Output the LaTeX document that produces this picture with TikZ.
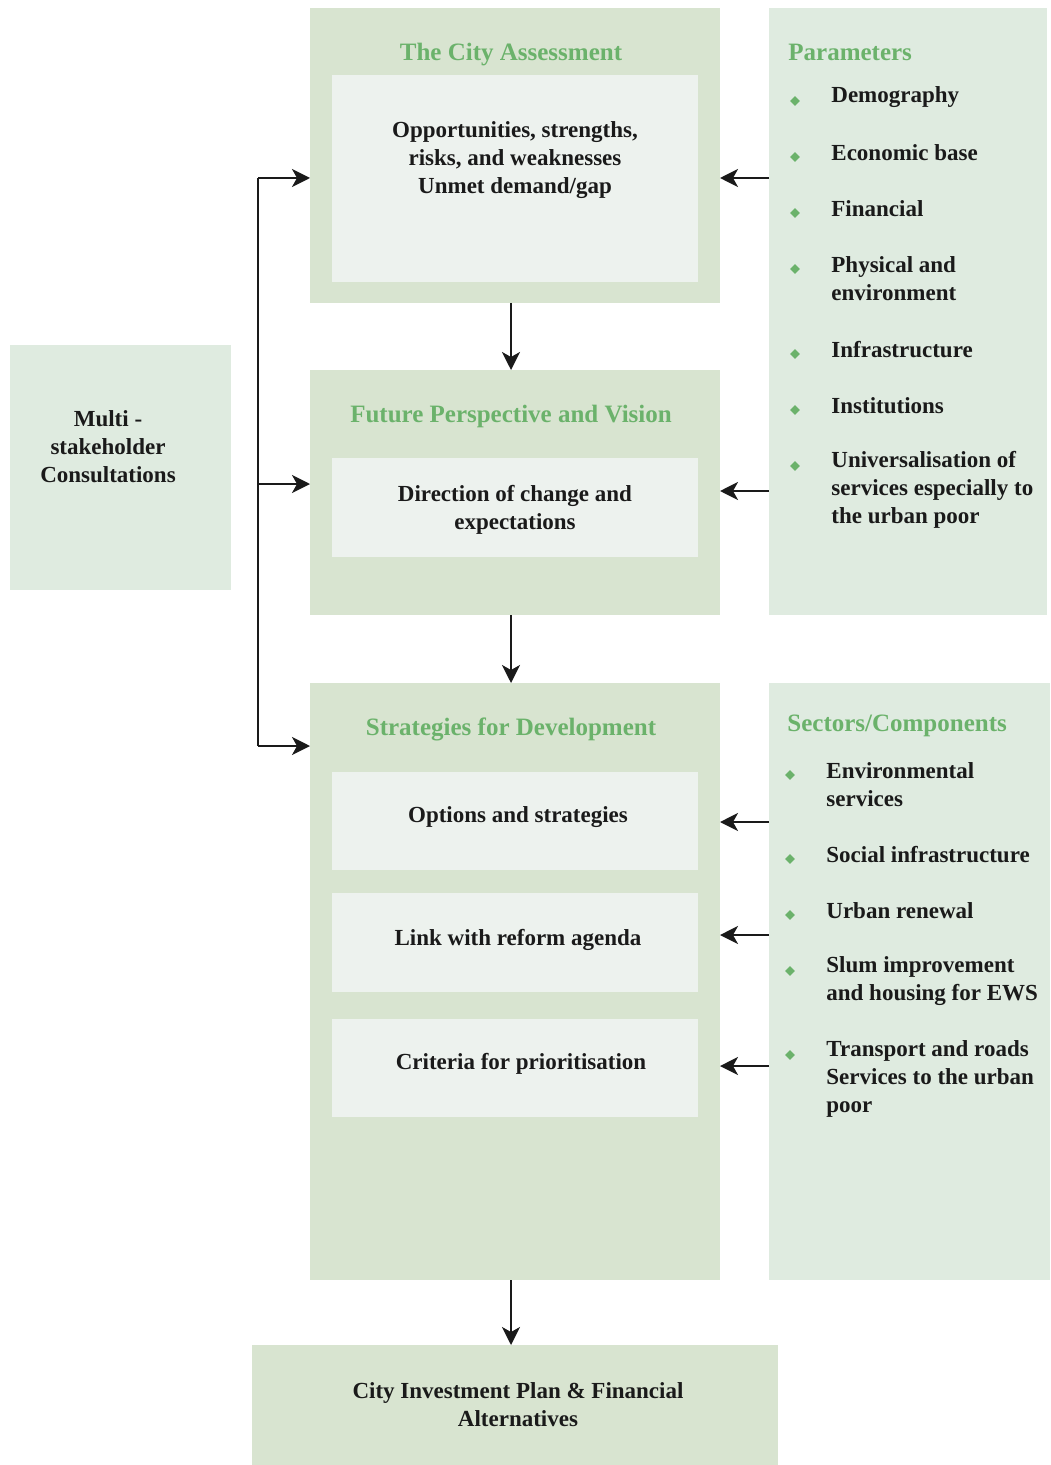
\documentclass[tikz,border=0pt]{standalone}
\usepackage{fontspec}
\setmainfont{Liberation Serif}
\usetikzlibrary{arrows.meta,shapes.geometric}
\definecolor{mainbox}{HTML}{D8E4D0}
\definecolor{sidebox}{HTML}{DFEBE0}
\definecolor{innerbox}{HTML}{EDF2EE}
\definecolor{titlegreen}{HTML}{6BB26B}
\definecolor{txt}{HTML}{1A1A1A}
\tikzset{
  box/.style={anchor=north west, inner sep=0pt, outer sep=0pt, draw=none},
  mainb/.style={box, fill=mainbox},
  sideb/.style={box, fill=sidebox},
  innerb/.style={box, fill=innerbox},
  ttl/.style={text=titlegreen, font=\bfseries\fontsize{12.5}{15}\selectfont, inner sep=0pt},
  body/.style={text=txt, font=\bfseries\fontsize{11.5}{14}\selectfont, align=center, inner sep=0pt},
  item/.style={text=txt, font=\bfseries\fontsize{11.5}{14}\selectfont, align=left, anchor=west, inner sep=0pt},
  bul/.style={diamond, fill=titlegreen, inner sep=0pt, minimum size=5pt},
  arr/.style={line width=1pt, draw=txt, -{Stealth[length=9pt,width=9pt,inset=2.5pt]}},
  ln/.style={line width=1pt, draw=txt}
}
\begin{document}
\begin{tikzpicture}[x=0.5pt,y=-0.5pt]
\useasboundingbox (0,0) rectangle (1050,1465);
% main boxes
\node[mainb, minimum width=205pt, minimum height=147.5pt] (ca) at (310,8) {};
\node[innerb, minimum width=183pt, minimum height=103.5pt] (caIn) at (332,75) {};
\node[mainb, minimum width=205pt, minimum height=122.5pt] (fp) at (310,370) {};
\node[innerb, minimum width=183pt, minimum height=49.5pt] (fpIn) at (332,458) {};
\node[mainb, minimum width=205pt, minimum height=298.5pt] (sd) at (310,683) {};
\node[innerb, minimum width=183pt, minimum height=49pt] (sdA) at (332,772) {};
\node[innerb, minimum width=183pt, minimum height=49.5pt] (sdB) at (332,893) {};
\node[innerb, minimum width=183pt, minimum height=49pt] (sdC) at (332,1019) {};
\node[sideb, minimum width=139pt, minimum height=303.5pt] (par) at (769,8) {};
\node[sideb, minimum width=140.5pt, minimum height=298.5pt] (sec) at (769,683) {};
\node[sideb, minimum width=110.5pt, minimum height=122.5pt] (msc) at (10,345) {};
\node[mainb, minimum width=263pt, minimum height=60pt] (fin) at (252,1345) {};

% titles
\node[ttl] (caT) at (511,55) {The City Assessment};
\node[ttl] (fpT) at (511,416) {Future Perspective and Vision};
\node[ttl] (sdT) at (511,729) {Strategies for Development};
\node[ttl, anchor=west] (parT) at (788,52) {Parameters};
\node[ttl, anchor=west] (secT) at (787,726) {Sectors/Components};

% body texts
\node[body] (caX) at (515,160) {Opportunities, strengths,\\risks, and weaknesses\\Unmet demand/gap};
\node[body] (fpX) at (515,510) {Direction of change and\\expectations};
\node[body] (sdAX) at (518,817) {Options and strategies};
\node[body] (sdBX) at (518,940) {Link with reform agenda};
\node[body] (sdCX) at (521,1064) {Criteria for prioritisation};
\node[body] (mscX) at (108,447) {Multi -\\stakeholder\\Consultations};
\node[body] (finX) at (518,1405) {City Investment Plan \& Financial\\Alternatives};

% parameter items
\node[bul] (pb1) at (795,101) {};
\node[item] (p1) at (831,97) {Demography};
\node[bul] (pb2) at (795,157) {};
\node[item] (p2) at (831,153) {Economic base};
\node[bul] (pb3) at (795,213) {};
\node[item] (p3) at (831,209) {Financial};
\node[bul] (pb4) at (795,269) {};
\node[item] (p4) at (831,279) {Physical and\\environment};
\node[bul] (pb5) at (795,354) {};
\node[item] (p5) at (831,350) {Infrastructure};
\node[bul] (pb6) at (795,410) {};
\node[item] (p6) at (831,406) {Institutions};
\node[bul] (pb7) at (795,466) {};
\node[item] (p7) at (831,490) {Universalisation of\\services especially to\\the urban poor};

% sector items
\node[bul] (sb1) at (790,775) {};
\node[item] (s1) at (826,785) {Environmental\\services};
\node[bul] (sb2) at (790,859) {};
\node[item] (s2) at (826,855) {Social infrastructure};
\node[bul] (sb3) at (790,915) {};
\node[item] (s3) at (826,911) {Urban renewal};
\node[bul] (sb4) at (790,971) {};
\node[item] (s4) at (826,981) {Slum improvement\\and housing for EWS};
\node[bul] (sb5) at (790,1055) {};
\node[item] (s5) at (826,1079) {Transport and roads\\Services to the urban\\poor};

% bus line coordinates
\coordinate (busTop) at (258,178);
\coordinate (busMid) at (258,484);
\coordinate (busBot) at (258,746);
\draw[ln] (busTop) -- (busBot);
\draw[arr] (busTop) -- (ca.west |- busTop);
\draw[arr] (busMid) -- (fp.west |- busMid);
\draw[arr] (busBot) -- (sd.west |- busBot);

% vertical flow arrows
\coordinate (vx) at (511,0);
\draw[arr] (ca.south -| vx) -- (fp.north -| vx);
\draw[arr] (fp.south -| vx) -- (sd.north -| vx);
\draw[arr] (sd.south -| vx) -- (fin.north -| vx);

% side input arrows
\coordinate (inA) at (0,178);
\coordinate (inB) at (0,491);
\coordinate (inC) at (0,822);
\coordinate (inD) at (0,935);
\coordinate (inE) at (0,1066);
\draw[arr] (par.west |- inA) -- (ca.east |- inA);
\draw[arr] (par.west |- inB) -- (fp.east |- inB);
\draw[arr] (sec.west |- inC) -- (sd.east |- inC);
\draw[arr] (sec.west |- inD) -- (sd.east |- inD);
\draw[arr] (sec.west |- inE) -- (sd.east |- inE);
\end{tikzpicture}
\end{document}
